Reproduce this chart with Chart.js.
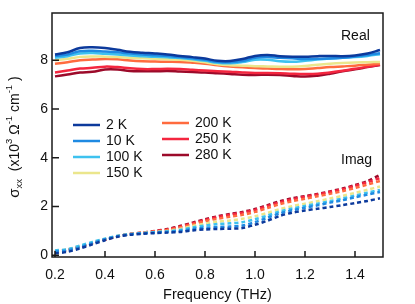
<!DOCTYPE html>
<html>
<head>
<meta charset="utf-8">
<script src="https://cdn.jsdelivr.net/npm/chart.js@4.4.1/dist/chart.umd.min.js"></script>
<style>
  body { margin: 0; background: #fff; }
  canvas { display: block; }
</style>
</head>
<body>
<canvas id="chart" width="415" height="304"></canvas>
<script>
// frequency grid (THz)
const freq = [0.2, 0.25, 0.3, 0.35, 0.4, 0.45, 0.5, 0.55, 0.6, 0.65, 0.7, 0.75, 0.8, 0.85, 0.9,
              0.95, 1.0, 1.05, 1.1, 1.15, 1.2, 1.25, 1.3, 1.35, 1.4, 1.45, 1.5];
const tempLabels = ["2 K", "10 K", "100 K", "150 K", "200 K", "250 K", "280 K"];
const xTicks = [0.2, 0.4, 0.6, 0.8, 1.0, 1.2, 1.4];
const yTicks = [0, 2, 4, 6, 8];

// real part (x10^3 Ohm^-1 cm^-1)
const real2K   = [8.24, 8.33, 8.50, 8.53, 8.50, 8.43, 8.35, 8.31, 8.28, 8.24, 8.18, 8.13, 8.07, 7.98, 7.97, 8.05, 8.18, 8.22, 8.17, 8.15, 8.15, 8.17, 8.18, 8.17, 8.20, 8.28, 8.42];
const real10K  = [8.18, 8.24, 8.37, 8.39, 8.36, 8.33, 8.28, 8.24, 8.21, 8.18, 8.13, 8.08, 8.02, 7.94, 7.92, 7.97, 8.10, 8.13, 8.10, 8.08, 8.05, 8.06, 8.07, 8.10, 8.15, 8.22, 8.29];
const real100K = [8.10, 8.17, 8.28, 8.30, 8.27, 8.24, 8.20, 8.17, 8.14, 8.12, 8.09, 8.04, 7.98, 7.90, 7.88, 7.93, 8.02, 8.02, 7.96, 7.94, 7.98, 8.03, 8.07, 8.10, 8.13, 8.18, 8.25];
const real150K = [8.00, 8.06, 8.14, 8.16, 8.15, 8.13, 8.10, 8.08, 8.06, 8.04, 8.02, 7.98, 7.92, 7.84, 7.80, 7.78, 7.76, 7.75, 7.74, 7.74, 7.77, 7.82, 7.86, 7.89, 7.91, 7.92, 7.93];
const real200K = [7.86, 7.92, 8.00, 8.03, 8.05, 8.04, 7.99, 7.96, 7.95, 7.94, 7.93, 7.90, 7.86, 7.80, 7.75, 7.71, 7.68, 7.66, 7.64, 7.63, 7.64, 7.68, 7.72, 7.75, 7.78, 7.82, 7.86];
const real250K = [7.50, 7.58, 7.66, 7.69, 7.74, 7.72, 7.67, 7.64, 7.64, 7.65, 7.64, 7.61, 7.58, 7.55, 7.53, 7.50, 7.48, 7.48, 7.47, 7.45, 7.44, 7.45, 7.50, 7.57, 7.65, 7.73, 7.82];
const real280K = [7.34, 7.42, 7.50, 7.53, 7.62, 7.62, 7.56, 7.55, 7.55, 7.56, 7.54, 7.52, 7.50, 7.47, 7.44, 7.41, 7.40, 7.41, 7.40, 7.36, 7.33, 7.37, 7.45, 7.55, 7.63, 7.72, 7.81];

// imaginary part
const imag2K   = [0.08, 0.14, 0.28, 0.45, 0.62, 0.76, 0.84, 0.88, 0.91, 0.93, 0.96, 1.02, 1.06, 1.08, 1.09, 1.12, 1.25, 1.42, 1.62, 1.75, 1.84, 1.91, 1.98, 2.06, 2.14, 2.23, 2.34];
const imag10K  = [0.15, 0.20, 0.33, 0.50, 0.66, 0.78, 0.86, 0.90, 0.93, 0.96, 1.00, 1.08, 1.13, 1.16, 1.18, 1.22, 1.36, 1.54, 1.72, 1.85, 1.95, 2.05, 2.16, 2.26, 2.38, 2.49, 2.60];
const imag100K = [0.20, 0.25, 0.40, 0.55, 0.68, 0.80, 0.87, 0.91, 0.95, 0.98, 1.04, 1.14, 1.22, 1.28, 1.31, 1.36, 1.48, 1.63, 1.80, 1.92, 2.02, 2.12, 2.22, 2.33, 2.45, 2.57, 2.68];
const imag150K = [0.18, 0.24, 0.38, 0.53, 0.67, 0.79, 0.87, 0.92, 0.96, 1.00, 1.08, 1.20, 1.30, 1.38, 1.43, 1.50, 1.60, 1.74, 1.90, 2.02, 2.12, 2.22, 2.33, 2.44, 2.56, 2.69, 2.82];
const imag200K = [0.15, 0.22, 0.35, 0.50, 0.65, 0.78, 0.87, 0.92, 0.98, 1.04, 1.14, 1.27, 1.40, 1.50, 1.58, 1.66, 1.78, 1.94, 2.10, 2.22, 2.32, 2.42, 2.52, 2.63, 2.76, 2.90, 3.05];
const imag250K = [0.17, 0.23, 0.36, 0.51, 0.65, 0.78, 0.87, 0.93, 0.99, 1.06, 1.17, 1.31, 1.45, 1.57, 1.66, 1.75, 1.86, 2.02, 2.18, 2.30, 2.40, 2.50, 2.60, 2.71, 2.85, 3.00, 3.17];
const imag280K = [0.17, 0.22, 0.35, 0.50, 0.64, 0.78, 0.87, 0.93, 1.00, 1.08, 1.20, 1.34, 1.48, 1.60, 1.70, 1.78, 1.90, 2.06, 2.22, 2.34, 2.43, 2.52, 2.62, 2.74, 2.88, 3.05, 3.30];

const colors = ["#0c3a9c", "#1f8ae2", "#3ec2ef", "#ebe68c", "#ff6b3e", "#f4263f", "#9c0a2a"];
const realSets = [real2K, real10K, real100K, real150K, real200K, real250K, real280K];
const imagSets = [imag2K, imag10K, imag100K, imag150K, imag200K, imag250K, imag280K];

const FONT = "'Liberation Sans', Arial, sans-serif";
const toPoints = arr => arr.map((v, i) => ({ x: freq[i], y: v }));

const datasets = [];
realSets.forEach((arr, i) => datasets.push({
    label: tempLabels[i], data: toPoints(arr), borderColor: colors[i],
    borderWidth: 2.5, pointRadius: 0, tension: 0.4, fill: false
}));
imagSets.forEach((arr, i) => datasets.push({
    label: tempLabels[i] + " imag", data: toPoints(arr), borderColor: colors[i],
    borderWidth: 2.5, borderDash: [4, 3], pointRadius: 0, tension: 0.3, fill: false
}));

const decorPlugin = {
    id: "decor",
    afterDraw(chart) {
        const ctx = chart.ctx, a = chart.chartArea;
        const xs = chart.scales.x, ys = chart.scales.y;
        ctx.save();
        // frame + inward ticks
        ctx.strokeStyle = "#1a1a1a";
        ctx.lineWidth = 1.5;
        ctx.strokeRect(a.left, a.top, a.right - a.left, a.bottom - a.top);
        ctx.beginPath();
        xTicks.forEach(v => {
            const px = xs.getPixelForValue(v);
            ctx.moveTo(px, a.bottom); ctx.lineTo(px, a.bottom - 6);
        });
        yTicks.forEach(v => {
            const py = ys.getPixelForValue(v);
            ctx.moveTo(a.left, py); ctx.lineTo(a.left + 7, py);
        });
        ctx.stroke();

        // legend, two columns
        ctx.font = "14px " + FONT;
        ctx.textBaseline = "middle";
        ctx.textAlign = "left";
        ctx.fillStyle = "#111";
        const slots = [[73, 125], [73, 141], [73, 157], [73, 173], [162, 123], [162, 139], [162, 155]];
        slots.forEach((s, i) => {
            const ds = chart.data.datasets[i];
            ctx.strokeStyle = ds.borderColor;
            ctx.lineWidth = 2.5;
            ctx.beginPath();
            ctx.moveTo(s[0], s[1]); ctx.lineTo(s[0] + 27, s[1]);
            ctx.stroke();
            ctx.fillText(ds.label, s[0] + 33, s[1] + 0.5);
        });

        // annotations
        ctx.fillText("Real", 341, 36);
        ctx.fillText("Imag", 341, 160);

        // x title
        ctx.textAlign = "center";
        ctx.font = "14.5px " + FONT;
        ctx.fillText("Frequency (THz)", (a.left + a.right) / 2, 295);

        // y title with sub/superscripts
        const parts = [
            ["σ", 15, 0], ["xx", 9.5, 4], ["  (x10", 14, 0], ["3", 9.5, -6], [" Ω", 14, 0],
            ["-1", 9.5, -6], [" cm", 14, 0], ["-1", 9.5, -6], [" )", 14, 0]
        ];
        let total = 0;
        parts.forEach(p => { ctx.font = p[1] + "px " + FONT; total += ctx.measureText(p[0]).width; });
        ctx.translate(15, (a.top + a.bottom) / 2 + 2);
        ctx.rotate(-Math.PI / 2);
        ctx.textAlign = "left";
        let cx = -total / 2;
        parts.forEach(p => {
            ctx.font = p[1] + "px " + FONT;
            ctx.fillText(p[0], cx, p[2]);
            cx += ctx.measureText(p[0]).width;
        });
        ctx.restore();
    }
};

new Chart(document.getElementById("chart").getContext("2d"), {
    type: "line",
    data: { datasets },
    options: {
        responsive: false,
        animation: false,
        layout: { padding: { top: 13, right: 32, left: 0, bottom: 0 } },
        plugins: { legend: { display: false }, tooltip: { enabled: false } },
        scales: {
            x: {
                type: "linear", min: 0.188, max: 1.512,
                afterBuildTicks: s => { s.ticks = xTicks.map(v => ({ value: v })); },
                afterFit: s => { s.height = 47; },
                grid: { display: false, drawTicks: false },
                border: { display: false },
                ticks: { color: "#111", font: { family: FONT, size: 14 }, padding: 10, maxRotation: 0,
                         callback: v => v.toFixed(1) }
            },
            y: {
                min: -0.07, max: 9.94,
                afterBuildTicks: s => { s.ticks = yTicks.map(v => ({ value: v })); },
                afterFit: s => { s.width = 52; },
                grid: { display: false, drawTicks: false },
                border: { display: false },
                ticks: { color: "#111", font: { family: FONT, size: 14 }, padding: 4,
                         callback: v => String(v) }
            }
        }
    },
    plugins: [decorPlugin]
});
</script>
</body>
</html>
